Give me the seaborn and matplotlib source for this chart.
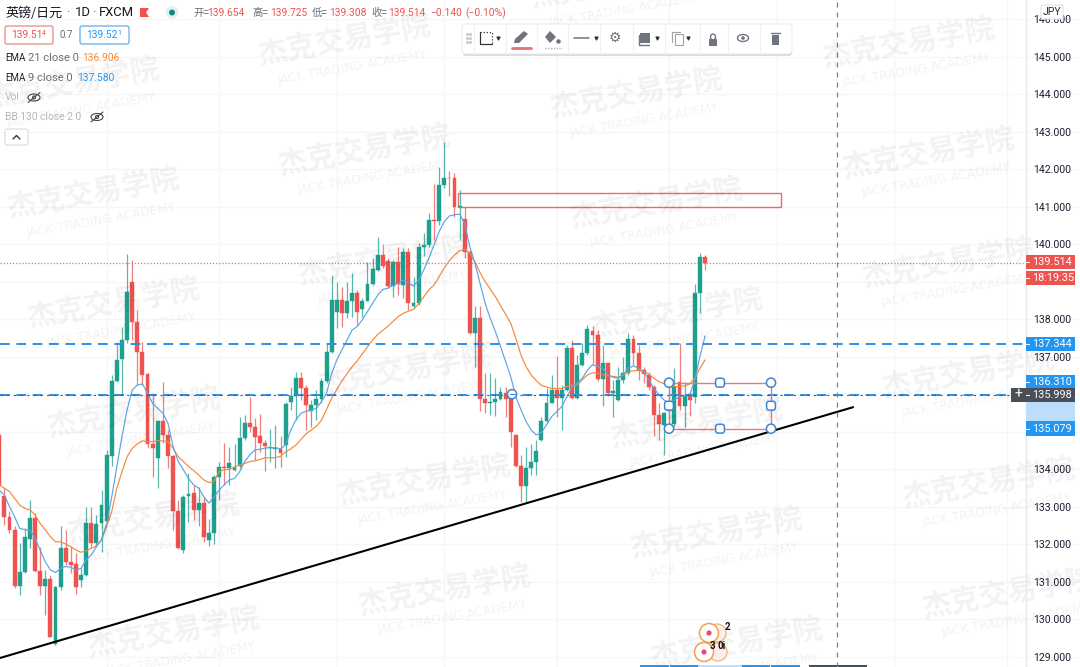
import numpy as np
import pandas as pd
import matplotlib
matplotlib.use("Agg")
import matplotlib.pyplot as plt
from matplotlib.patches import Rectangle, FancyBboxPatch, Circle, Ellipse, Polygon
import seaborn as sns

# GBP/JPY daily candles, first candle is index -1 (cut by the left edge)
opens = [134.92,
    133.29, 132.74, 132.39, 130.89, 131.27, 132.15, 132.70, 131.30, 130.89, 131.07,
    129.35, 130.87, 131.90, 131.52, 131.47, 131.05, 131.19, 132.56, 132.05, 132.56,
    132.63, 134.36, 136.37, 136.94, 137.44, 139.01, 137.94, 137.14, 136.54, 134.68,
    134.30, 135.30, 134.92, 134.36, 132.90, 131.85, 133.29, 133.36, 132.92, 133.10,
    132.12, 132.30, 133.81, 134.06, 134.03, 133.99, 134.08, 134.83, 135.25, 135.12,
    134.89, 134.71, 134.57, 134.55, 134.55, 134.65, 135.81, 135.96, 136.45, 136.16,
    135.57, 135.72, 135.89, 136.37, 137.14, 138.21, 138.52, 138.16, 138.49, 138.71,
    138.28, 138.50, 138.95, 139.32, 139.72, 139.57, 138.89, 139.54, 138.92, 139.81,
    138.36, 138.43, 139.92, 139.99, 140.65, 140.63, 141.59, 141.78, 141.76, 140.99,
    140.67, 139.81, 137.63, 138.05, 135.87, 135.78, 135.81, 135.89, 136.05, 135.90,
    134.92, 134.09, 133.57, 134.05, 134.21, 134.79, 135.28, 135.78, 136.12, 135.90,
    136.12, 137.23, 135.90, 136.79, 137.10, 137.68, 137.59, 136.40, 136.83, 136.05,
    135.84, 136.39, 136.58, 137.47, 137.10, 136.64, 136.52, 136.21, 135.44, 135.19,
    135.55, 135.21, 136.32, 135.70, 136.00, 135.92, 138.70, 139.654]
highs = [134.95,
    133.50, 132.88, 132.48, 132.03, 132.43, 133.19, 132.83, 131.94, 131.32, 131.19,
    130.90, 132.49, 132.39, 131.94, 131.76, 131.36, 133.01, 133.01, 132.79, 133.45,
    134.52, 136.52, 137.41, 137.81, 139.75, 139.59, 138.25, 137.41, 136.56, 136.03,
    135.32, 136.34, 135.05, 134.39, 133.19, 133.32, 133.90, 133.59, 133.54, 133.23,
    132.67, 133.85, 134.21, 134.70, 134.61, 134.68, 135.41, 135.45, 135.94, 135.36,
    135.48, 134.79, 135.08, 135.19, 134.89, 135.80, 136.21, 136.61, 136.61, 136.25,
    135.85, 136.12, 136.45, 137.36, 139.19, 139.01, 138.87, 139.01, 139.25, 138.79,
    138.56, 139.54, 139.63, 140.21, 140.01, 139.63, 139.59, 139.94, 139.90, 139.90,
    139.14, 140.03, 140.30, 140.85, 141.61, 142.06, 142.74, 141.97, 141.90, 141.44,
    140.99, 139.85, 138.36, 138.36, 136.58, 136.56, 136.43, 136.21, 136.21, 136.03,
    134.94, 134.39, 134.61, 134.68, 134.79, 135.41, 136.16, 136.52, 137.03, 136.25,
    137.32, 137.45, 137.05, 137.36, 137.85, 137.83, 137.72, 137.32, 136.85, 136.39,
    136.74, 137.01, 137.63, 137.59, 137.32, 136.74, 136.61, 136.25, 135.76, 135.54,
    136.39, 136.70, 137.36, 136.34, 136.03, 138.95, 139.78, 139.725]
lows = [133.50,
    132.52, 132.30, 130.83, 130.65, 131.23, 131.90, 131.27, 130.65, 130.12, 129.52,
    129.32, 130.79, 131.45, 131.23, 130.68, 130.87, 131.17, 131.90, 131.94, 131.81,
    132.60, 134.08, 136.34, 135.99, 137.36, 137.45, 136.25, 136.25, 134.56, 133.79,
    133.50, 134.70, 134.03, 132.39, 131.87, 131.76, 132.61, 132.65, 132.48, 132.07,
    131.96, 132.01, 133.19, 133.59, 133.59, 133.97, 134.03, 134.79, 135.01, 134.25,
    134.47, 133.96, 134.20, 134.04, 134.07, 134.33, 135.59, 135.32, 135.85, 135.05,
    135.14, 135.32, 135.76, 136.30, 137.10, 137.76, 137.81, 138.03, 138.07, 137.85,
    138.07, 138.48, 138.92, 139.28, 139.36, 138.83, 138.61, 138.65, 138.56, 138.25,
    138.30, 138.39, 139.69, 139.94, 140.12, 140.52, 141.50, 141.28, 140.74, 140.12,
    139.63, 137.61, 136.74, 135.57, 135.51, 135.45, 135.42, 135.85, 135.41, 134.61,
    134.07, 133.12, 133.14, 133.85, 133.85, 134.77, 135.25, 135.76, 135.41, 135.05,
    136.10, 135.88, 135.87, 136.77, 137.05, 136.79, 136.37, 135.68, 135.96, 135.41,
    135.82, 136.30, 136.52, 136.79, 136.39, 136.30, 136.12, 134.88, 134.79, 134.39,
    135.32, 135.14, 135.59, 135.14, 135.43, 135.76, 138.16, 139.308]
closes = [133.59,
    132.74, 132.39, 130.89, 131.27, 132.21, 132.70, 131.30, 130.89, 131.07, 129.54,
    130.87, 131.90, 131.52, 131.45, 130.86, 131.19, 132.56, 132.05, 132.55, 133.05,
    134.39, 136.37, 136.92, 137.44, 138.74, 137.94, 137.14, 136.52, 134.68, 134.56,
    135.30, 134.92, 134.36, 132.90, 131.90, 133.27, 133.35, 132.92, 133.10, 132.19,
    132.30, 133.81, 134.06, 134.03, 134.16, 134.06, 134.83, 135.25, 135.12, 134.86,
    134.71, 134.63, 134.60, 134.57, 134.44, 135.75, 135.96, 136.45, 136.16, 135.72,
    135.72, 135.89, 136.37, 137.14, 138.52, 138.52, 138.18, 138.48, 138.70, 138.21,
    138.50, 138.95, 139.34, 139.72, 139.43, 138.89, 139.54, 138.95, 139.81, 138.43,
    138.43, 139.92, 139.99, 140.65, 140.63, 141.59, 141.78, 141.76, 140.99, 141.03,
    139.81, 137.63, 138.05, 135.89, 135.78, 135.81, 135.89, 136.06, 135.89, 135.01,
    134.09, 133.57, 134.03, 134.21, 134.50, 135.28, 135.78, 136.12, 135.90, 136.12,
    137.23, 135.90, 136.79, 137.10, 137.74, 137.59, 136.40, 136.83, 136.05, 136.10,
    136.39, 136.56, 137.47, 137.10, 136.64, 136.55, 136.19, 135.44, 135.21, 135.50,
    135.75, 136.21, 135.70, 135.99, 135.85, 138.70, 139.66, 139.514]
ema9 = [133.45,
    133.32, 133.01, 132.74, 132.43, 132.39, 132.39, 132.16, 131.85, 131.54, 131.32,
    131.25, 131.36, 131.41, 131.39, 131.32, 131.36, 131.59, 131.72, 131.94, 132.12,
    132.56, 133.27, 134.08, 134.88, 135.59, 136.12, 136.25, 136.28, 136.03, 135.76,
    135.63, 135.50, 135.23, 134.61, 134.21, 133.99, 133.76, 133.59, 133.50, 133.27,
    133.10, 133.27, 133.45, 133.59, 133.72, 133.76, 133.94, 134.21, 134.39, 134.52,
    134.54, 134.57, 134.58, 134.58, 134.55, 134.65, 135.05, 135.32, 135.50, 135.55,
    135.58, 135.63, 135.81, 136.03, 136.56, 136.92, 137.19, 137.45, 137.72, 137.81,
    137.99, 138.21, 138.43, 138.65, 138.80, 138.83, 138.92, 138.96, 139.05, 138.98,
    138.89, 139.05, 139.32, 139.63, 139.99, 140.34, 140.61, 140.76, 140.79, 140.81,
    140.56, 139.94, 139.50, 138.96, 138.43, 138.03, 137.68, 137.28, 136.88, 136.48,
    135.94, 135.59, 135.28, 135.05, 134.92, 134.98, 135.19, 135.41, 135.54, 135.68,
    135.94, 136.21, 136.30, 136.43, 136.65, 136.79, 136.74, 136.70, 136.52, 136.46,
    136.43, 136.52, 136.70, 136.76, 136.70, 136.61, 136.39, 136.16, 135.99, 135.85,
    135.76, 135.85, 135.94, 135.96, 135.99, 136.39, 137.01, 137.56]
ema21 = [133.59,
    133.50, 133.41, 133.23, 133.05, 132.96, 132.92, 132.79, 132.56, 132.39, 132.21,
    132.07, 132.07, 132.01, 131.94, 131.85, 131.79, 131.83, 131.90, 131.96, 132.12,
    132.48, 132.88, 133.50, 133.94, 134.34, 134.56, 134.68, 134.76, 134.74, 134.74,
    134.77, 134.76, 134.74, 134.56, 134.34, 134.21, 134.08, 133.97, 133.85, 133.72,
    133.65, 133.68, 133.94, 133.99, 134.00, 134.06, 134.12, 134.16, 134.21, 134.23,
    134.27, 134.31, 134.31, 134.31, 134.35, 134.47, 134.55, 134.65, 134.80, 134.95,
    135.05, 135.15, 135.31, 135.60, 135.90, 136.13, 136.36, 136.55, 136.74, 136.90,
    137.08, 137.27, 137.45, 137.60, 137.71, 137.82, 137.95, 138.08, 138.16, 138.22,
    138.27, 138.42, 138.60, 138.79, 138.92, 139.14, 139.37, 139.57, 139.72, 139.83,
    139.87, 139.76, 139.54, 139.25, 139.01, 138.81, 138.61, 138.37, 138.14, 137.90,
    137.50, 137.05, 136.74, 136.52, 136.37, 136.24, 136.20, 136.16, 136.16, 136.16,
    136.21, 136.24, 136.25, 136.39, 136.52, 136.58, 136.56, 136.53, 136.50, 136.48,
    136.46, 136.52, 136.61, 136.63, 136.64, 136.61, 136.54, 136.43, 136.34, 136.28,
    136.23, 136.21, 136.21, 136.23, 136.28, 136.43, 136.70, 136.92]

price_ticks = [129, 130, 131, 132, 133, 134, 135, 136, 137, 138, 139, 140, 141, 142, 143, 144, 145, 146]
# these three sit under the price tags in the screenshot
hidden_ticks = [135, 136, 139]
grid_candles = [20, 42, 65, 86, 108, 130, 151, 174, 196]

last_price = 139.514
hline_upper = 137.344
hline_lower = 135.998
box_top, box_bottom = 136.310, 135.079
box_left, box_right = 130, 149.9
zone_top, zone_bottom = 141.373, 141.0
zone_left, zone_right = 88.7, 151.9
trend_x = [-0.85, 165.95]
trend_y = [128.97, 135.66]
cross_x = 162.8

RED = "#ef5350"
GREEN = "#1fa08f"
BLUE = "#2196f3"
ORANGE = "#f5883a"
DARK = "#4a4e57"
CJK = ["Noto Sans CJK SC", "DejaVu Sans"]

sns.set_theme(style="white")
plt.rcParams["font.family"] = ["Roboto", "Noto Sans CJK SC", "DejaVu Sans"]
plt.rcParams["axes.unicode_minus"] = False

df = pd.DataFrame({"open": opens, "high": highs, "low": lows, "close": closes,
                   "ema9": ema9, "ema21": ema21})
df["candle"] = np.arange(-1, len(df) - 1)
colors = [GREEN if c >= o else RED for o, c in zip(df["open"], df["close"])]

fig = plt.figure(figsize=(10.8, 6.67), dpi=100)
ax = fig.add_axes([0, 0, 1, 1])
ax.set_xlim(-0.847, 210.3)
ax.set_ylim(128.73, 146.52)

# price axis sits inside the picture, like the screenshot
ax.set_xticks(grid_candles)
ax.set_yticks(price_ticks)
ax.set_yticklabels(["" if p in hidden_ticks else f"{p:.3f}" for p in price_ticks])
ax.yaxis.tick_right()
ax.tick_params(axis="y", length=0, pad=-34, labelsize=7.6, labelcolor="#1c2030")
ax.tick_params(axis="x", length=0, labelbottom=False)
ax.grid(True, color="#f5f6f8", lw=1)
ax.set_axisbelow(True)
for s in ax.spines.values():
    s.set_visible(False)

# candles
ax.vlines(df["candle"], df["low"], df["high"], colors=colors, lw=0.9, alpha=0.75, zorder=3)
ax.bar(df["candle"], df["close"] - df["open"], bottom=df["open"], width=0.76,
       color=colors, edgecolor=colors, linewidth=0.3, zorder=4)

sns.lineplot(data=df, x="candle", y="ema21", color=ORANGE, lw=0.85, ax=ax, sort=False, estimator=None, legend=False, zorder=5)
sns.lineplot(data=df, x="candle", y="ema9", color="#5aa5e6", lw=0.85, ax=ax, sort=False, estimator=None, legend=False, zorder=5)
sns.lineplot(x=trend_x, y=trend_y, color="black", lw=1.5, ax=ax, estimator=None, legend=False, zorder=6)
ax.set_xlabel("")
ax.set_ylabel("")

ax.axhline(last_price, xmax=1025 / 1080, color="#ef6f6d", lw=0.9, ls=(0, (1, 1.5)), zorder=2)
ax.axhline(hline_upper, xmax=1025 / 1080, color="#2f8fe6", lw=1.4, ls=(0, (5, 3.4)), zorder=6)
ax.axhline(hline_lower, xmax=1025 / 1080, color="#2f8fe6", lw=1.4, ls=(0, (5, 3.4)), zorder=6)
ax.axhline(hline_lower, xmax=1025 / 1080, color="#555555", lw=0.8, ls=(0, (2, 4)), zorder=6)
ax.axvline(cross_x, color="#808080", lw=0.9, ls=(0, (4, 4)), zorder=6)

ax.add_patch(Rectangle((zone_left, zone_bottom), zone_right - zone_left, zone_top - zone_bottom,
                       fc="none", ec="#ee6a68", lw=1, zorder=3))
ax.add_patch(Rectangle((box_left, box_bottom), box_right - box_left, box_top - box_bottom,
                       fc="none", ec="#ef7672", lw=1, zorder=6))

# overlay in screenshot pixels for the trading UI
ui = fig.add_axes([0, 0, 1, 1], facecolor="none")
ui.set_xlim(0, 1080)
ui.set_ylim(667, 0)
ui.axis("off")

# watermark
wm_spots = [(73, 83), (93, 193), (113, 303), (133, 412), (153, 518), (173, 632),
            (344, 40), (364, 150), (384, 260), (404, 370), (424, 480), (444, 590),
            (616, -17), (636, 93), (656, 203), (676, 313), (696, 423), (716, 533), (736, 643),
            (908, 43), (928, 153), (948, 263), (968, 373), (988, 483), (1008, 593)]
for wx, wy in wm_spots:
    ui.text(wx, wy, "杰克交易学院", family=CJK, fontsize=21, fontweight="bold", color="#000000",
            alpha=0.05, rotation=10, ha="center", va="center", rotation_mode="anchor", zorder=1, clip_on=True)
    ui.text(wx + 8, wy + 27, "JACK TRADING ACADEMY", family="DejaVu Sans", fontsize=8.8, color="#000000",
            alpha=0.05, rotation=10, ha="center", va="center", rotation_mode="anchor", zorder=1, clip_on=True)


def put(x, y, s, color="#2a2e39", size=7.6, **kw):
    kw.setdefault("va", "center")
    kw.setdefault("zorder", 8)
    return ui.text(x, y, s, color=color, fontsize=size, **kw)


def tag(y0, y1, label, fc):
    ui.add_patch(Rectangle((1026, y0), 49, y1 - y0, fc=fc, ec="none", zorder=7))
    ui.plot([1026, 1029], [(y0 + y1) / 2] * 2, color="white", lw=0.8, zorder=8)
    put(1032, (y0 + y1) / 2, label, color="white", size=7.8)


def handle_round(x, y):
    ui.add_patch(Circle((x, y), 4.6, fc="white", ec="#3f86d0", lw=1.1, zorder=7))


def handle_square(x, y):
    ui.add_patch(FancyBboxPatch((x - 4.4, y - 4.4), 8.8, 8.8, boxstyle="round,pad=0,rounding_size=2.4",
                                fc="white", ec="#3f86d0", lw=1.1, zorder=7))


def hidden_eye(x, y):
    ui.add_patch(Ellipse((x, y), 12, 7, fc="none", ec="#444444", lw=0.8, zorder=8))
    ui.add_patch(Circle((x, y), 1.6, fc="none", ec="#444444", lw=0.7, zorder=8))
    ui.plot([x - 6, x + 6], [y + 5, y - 5], color="#444444", lw=0.8, zorder=8)


# right price scale
ui.plot([1025.5, 1025.5], [0, 667], color="#e6e8ee", lw=1, zorder=2)
ui.add_patch(Rectangle((1026, 389), 49, 32, fc="#bbdefb", ec="none", zorder=7))
tag(255, 269, "139.514", RED)
tag(271, 285, "18:19:35", RED)
tag(337, 351, "137.344", BLUE)
tag(375, 389, "136.310", BLUE)
tag(388, 402, "135.998", DARK)
tag(421, 436, "135.079", BLUE)
ui.add_patch(Rectangle((1011, 388), 15, 14, fc=DARK, ec="none", zorder=7))
put(1018.5, 394.5, "+", color="white", size=10, ha="center")
ui.add_patch(FancyBboxPatch((1041, 5), 22, 14, boxstyle="round,pad=0,rounding_size=2",
                            fc="white", ec="#e0e3eb", lw=0.8, zorder=7))
put(1052, 12, "JPY", size=7.6, ha="center")

# drawing handles
for hx, hy in [(669, 382.7), (771, 382.7), (669, 428.7), (771, 428.7)]:
    handle_round(hx, hy)
for hx, hy in [(720, 382.7), (720, 428.7), (669, 405.7), (771, 405.7)]:
    handle_square(hx, hy)
handle_round(512, 394.2)
ui.plot([509.5, 514.5], [394.2, 394.2], color="#3f86d0", lw=0.8, zorder=8)

# header
put(5, 13, "英镑/日元", size=9.4, family=CJK, color="#131722")
put(66, 13, "·", size=9.4, color="#555555")
put(75, 13, "1D", size=9.4, color="#131722")
put(92, 13, "·", size=9.4, color="#555555")
put(99, 13, "FXCM", size=9.4, color="#131722")
ui.add_patch(Polygon([(140, 8), (149, 8), (146, 12.5), (149, 17), (140, 17)], fc=RED, ec="none", zorder=8))
ui.add_patch(Circle((172, 12.5), 6.5, fc="#e4f3f1", ec="none", zorder=8))
ui.add_patch(Circle((172, 12.5), 3, fc="#11897c", ec="none", zorder=8))
for lx, lab, vx, val in [(193, "开=", 207, "139.654"), (252, "高=", 270, "139.725"),
                         (312, "低=", 329, "139.308"), (371, "收=", 388, "139.514")]:
    put(lx, 13, lab, color="#6a6d78", size=7.4, family=CJK)
    put(vx, 13, val, color=RED, size=7.4)
put(430, 13, "−0.140", color=RED, size=7.4)
put(465, 13, "(−0.10%)", color=RED, size=7.4)

# bid / ask boxes
ui.add_patch(FancyBboxPatch((5, 26), 48, 18, boxstyle="round,pad=0,rounding_size=2", fc="white", ec="#e68a88", lw=0.9, zorder=7))
put(11, 35.5, "139.51", color=RED, size=7.3)
put(42, 33.5, "4", color=RED, size=5)
put(60, 35.5, "0.7", color="#6a6d78", size=7)
ui.add_patch(FancyBboxPatch((80, 26), 49, 18, boxstyle="round,pad=0,rounding_size=2", fc="white", ec="#64a9ec", lw=0.9, zorder=7))
put(86, 35.5, "139.52", color=BLUE, size=7.3)
put(117, 33.5, "1", color=BLUE, size=5)

# indicator legend
put(5, 58, "EMA", color="#222222", size=7)
put(28, 58, "21 close 0", color="#6a6d78", size=8)
put(82, 58, "136.906", color=ORANGE, size=7.4)
put(5, 78, "EMA", color="#222222", size=7)
put(28, 78, "9 close 0", color="#6a6d78", size=8)
put(77, 78, "137.580", color=BLUE, size=7.4)
put(5, 97, "Vol", color="#b4b6bd", size=7.4)
hidden_eye(34, 97.5)
put(5, 117, "BB 130 close 2 0", color="#b4b6bd", size=7.4)
hidden_eye(97, 117)
ui.add_patch(FancyBboxPatch((5, 129), 23, 16, boxstyle="round,pad=0,rounding_size=2", fc="white", ec="#d8dbe2", lw=0.8, zorder=7))
ui.plot([13, 16.5, 20], [139, 135.5, 139], color="#333333", lw=1, zorder=8)

# floating toolbar
ui.add_patch(FancyBboxPatch((463, 26), 329, 30, boxstyle="round,pad=0,rounding_size=3", fc="#00000022", ec="none", zorder=6))
ui.add_patch(FancyBboxPatch((462, 24), 330, 30, boxstyle="round,pad=0,rounding_size=3", fc="white", ec="#e3e5ea", lw=0.6, zorder=7))
for sx in [474, 506, 537, 568, 600, 633, 665, 700, 728, 760]:
    ui.plot([sx, sx], [24, 54], color="#f0f1f4", lw=0.8, zorder=8)
for dy in [34, 38, 42]:
    ui.scatter([467, 470], [dy, dy], s=1.5, color="#c8cad0", zorder=8)
icon = "#6f7480"
ui.plot([480, 480, 492], [32, 44, 44], color="#333333", lw=0.9, zorder=8)
ui.plot([480, 492, 492], [32, 32, 44], color="#333333", lw=0.9, ls=(0, (1, 1.5)), zorder=8)
ui.add_patch(Polygon([(514, 43), (515, 39), (524, 31), (528, 34), (519, 43)], fc=icon, ec="none", zorder=8))
ui.plot([512, 531], [48, 48], color="#e57373", lw=2, zorder=8)
ui.add_patch(Polygon([(550, 31), (556, 37), (550, 43), (545, 37)], fc=icon, ec="none", zorder=8))
ui.scatter([558], [41], s=5, color=icon, zorder=8)
ui.plot([545, 562], [48, 48], color="#b0b2ba", lw=1, ls=(0, (1, 1)), zorder=8)
ui.plot([574, 589], [38, 38], color=icon, lw=1.1, zorder=8)
ui.text(615, 38, "\u2699", family="DejaVu Sans", fontsize=10, color=icon, ha="center", va="center", zorder=8)
ui.add_patch(Rectangle((640, 33), 10, 10, fc=icon, ec="none", zorder=8))
ui.plot([639, 639, 649], [35, 45, 45], color=icon, lw=1, zorder=8)
ui.add_patch(Rectangle((675, 34), 8, 11, fc="white", ec="#a0a3ab", lw=0.8, zorder=8))
ui.plot([672, 672, 680], [42, 32, 32], color="#a0a3ab", lw=0.8, zorder=8)
ui.add_patch(Rectangle((709, 39), 8, 7, fc=icon, ec="none", zorder=8))
ui.add_patch(Ellipse((713, 37), 5, 6, fc="none", ec=icon, lw=1, zorder=8))
ui.add_patch(Ellipse((743, 38), 11, 7, fc="none", ec=icon, lw=1, zorder=8))
ui.add_patch(Circle((743, 38), 1.8, fc=icon, ec="none", zorder=8))
ui.add_patch(Rectangle((772, 35), 7, 10, fc=icon, ec="none", zorder=8))
ui.plot([771, 780], [33, 33], color=icon, lw=1, zorder=8)
ui.scatter([498, 596, 657, 688], [38, 38, 38, 38], marker="v", s=4, color="#333333", zorder=8)

# earnings / news bubbles near the time axis
for cx, cy in [(717, 633), (718, 652)]:
    ui.add_patch(Circle((cx, cy), 9, fc="#fdeeee", ec="#f0b27a", lw=0.9, zorder=7))
for cx, cy in [(709, 633), (704, 652)]:
    ui.add_patch(Circle((cx, cy), 9.5, fc="white", ec="#f2a04e", lw=1.1, zorder=7))
    ui.add_patch(Circle((cx, cy), 2.6, fc="#ea4b6d", ec="none", zorder=8))
put(727, 627, "2", size=7, color="#111111", ha="center", fontweight="bold")
put(712, 646, "3", size=7, color="#111111", ha="center", fontweight="bold")
put(722, 646, "0i", size=7, color="#111111", ha="center", fontweight="bold")

# time axis highlights peeking out at the bottom edge
for bx0, bx1, bc in [(640, 669, BLUE), (670, 698, BLUE), (698, 742, "#bbdefb"), (742, 770, BLUE),
                     (771, 800, BLUE), (809, 837, DARK), (838, 867, DARK)]:
    ui.add_patch(Rectangle((bx0, 665), bx1 - bx0, 3, fc=bc, ec="none", zorder=8))

fig.savefig("out.png", dpi=100)
